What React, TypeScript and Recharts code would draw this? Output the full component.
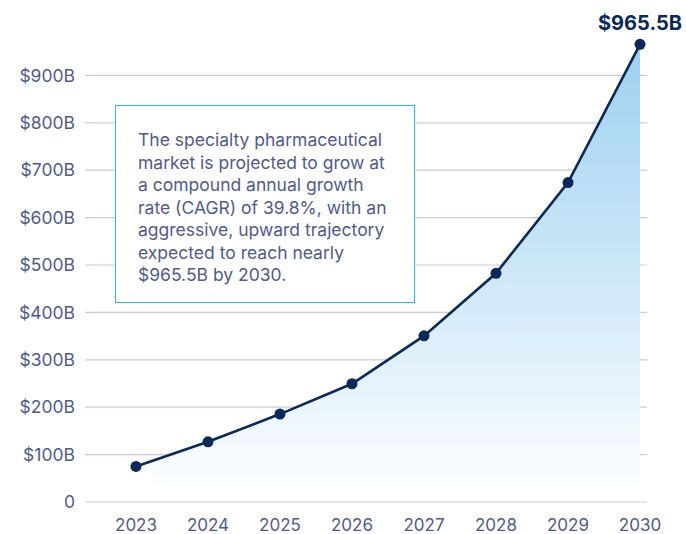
import { AreaChart, Area, XAxis, YAxis, CartesianGrid, LabelList } from 'recharts'

// Market size, $B
const YEARS = ['2023', '2024', '2025', '2026', '2027', '2028', '2029', '2030']
const MARKET = [75, 127, 185.5, 249.5, 350.5, 482.5, 674, 965.5]
const Y_TICKS = [0, 100, 200, 300, 400, 500, 600, 700, 800, 900]
const Y_MAX = 1000
const NOTE =
  'The specialty pharmaceutical market is projected to grow at a compound annual growth rate (CAGR) of 39.8%, with an aggressive, upward trajectory expected to reach nearly $965.5B by 2030.'

const TEXT = '#4f5b8b'
const NAVY = '#0b2857'
const FONT = 'Inter, "Noto Sans", sans-serif'

const data = YEARS.map((year, i) => ({ year, value: MARKET[i] }))

const fmtY = (v: number) => (v === 0 ? '0' : `$${v}B`)

// grid only at the labelled ticks (no line at the top of the domain)
const gridRows = ({ offset }: any) =>
  Y_TICKS.map((t) => offset.top + offset.height * (1 - t / Y_MAX))

// only the last point gets a value label
const LastLabel = (props: any) => {
  const { x, y, index, value } = props
  if (index !== MARKET.length - 1) return null
  return (
    <text x={x} y={y - 14} textAnchor="middle" fill={NAVY} fontSize={20} fontWeight={700} fontFamily={FONT}>
      {`$${value}B`}
    </text>
  )
}

export default function App() {
  return (
    <div style={{ position: 'absolute', left: 0, top: 0, width: 686, height: 534, background: '#fff' }}>
      <style>{`.market-area .recharts-area-area { clip-path: inset(0 0 3% 3.2%); }`}</style>
      <AreaChart width={686} height={534} data={data} margin={{ top: 28, right: 39, left: 0, bottom: 0 }}>
        <defs>
          <linearGradient id="mktFill" x1="0" y1="0" x2="0" y2="1">
            <stop offset="0%" stopColor="#9dd0f1" />
            <stop offset="100%" stopColor="#ffffff" />
          </linearGradient>
        </defs>
        <CartesianGrid
          vertical={false}
          stroke="#c9cbdc"
          strokeWidth={1.2}
          horizontalCoordinatesGenerator={gridRows}
        />
        <XAxis
          dataKey="year"
          axisLine={false}
          tickLine={false}
          tickMargin={11}
          height={32}
          padding={{ left: 51, right: 7 }}
          tick={{ fill: TEXT, fontSize: 17, fontFamily: FONT }}
        />
        <YAxis
          domain={[0, Y_MAX]}
          ticks={Y_TICKS}
          tickFormatter={fmtY}
          axisLine={false}
          tickLine={false}
          tickMargin={4}
          width={85}
          tick={{ fill: TEXT, fontSize: 17.5, fontFamily: FONT }}
        />
        <Area
          className="market-area"
          type="linear"
          dataKey="value"
          stroke={NAVY}
          strokeWidth={2.6}
          fill="url(#mktFill)"
          fillOpacity={1}
          dot={{ r: 5.5, fill: NAVY, stroke: NAVY, strokeWidth: 0 }}
          activeDot={false}
          isAnimationActive={false}
        >
          <LabelList dataKey="value" content={LastLabel} />
        </Area>
      </AreaChart>
      <div
        style={{
          position: 'absolute',
          left: 115,
          top: 105,
          width: 276,
          height: 196,
          border: '1px solid #2bbbe3',
          background: '#fff',
          padding: '0 0 0 22px',
          boxSizing: 'content-box',
        }}
      >
        <div
          style={{
            marginTop: 23,
            width: 254,
            fontFamily: FONT,
            fontSize: 17.5,
            lineHeight: '22.5px',
            color: TEXT,
          }}
        >
          {NOTE}
        </div>
      </div>
    </div>
  )
}
